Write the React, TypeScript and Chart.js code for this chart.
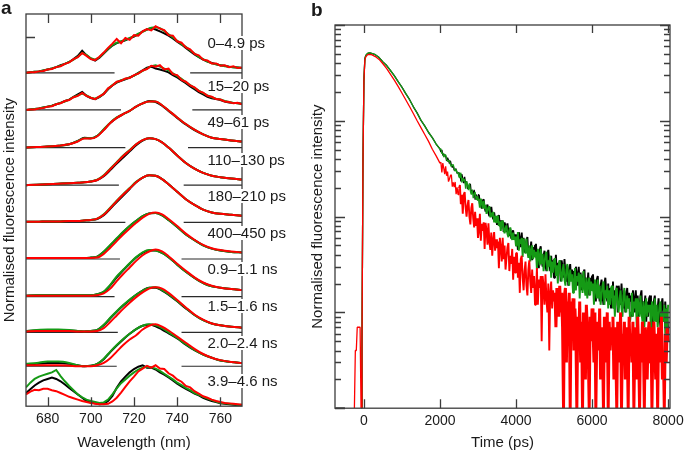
import React, { useEffect, useRef } from "react";
import { Chart, registerables } from "chart.js";
Chart.register(...registerables);

const FONT = '"Liberation Sans", Arial, Helvetica, sans-serif';
const TEXT = "#1a1a1a";
const AXIS = "#3c3c3c";
const RED = "#ff0000";
const GREEN = "#159a15";
const BLACK = "#000000";
const BASE = "#2a2a2a";

// ---------------- Panel a: spectra ----------------
const WL_N = [670,672,674,676,678,680,682,684,686,688,690,692,694,696,698,700,702,704,706,708,710,712,714,716,718,720,722,724,726,728,730,732,734,736,738,740,742,744,746,748,750,752,754,756,758,760,762,764,766,768,770];
const WL_S = [670,675,680,685,690,694,697,700,703,706,709,712,715,718,721,724,727,730,733,736,740,744,748,752,756,760,765,770];
const X_TICKS_A = [680, 700, 720, 740, 760];
const Y_TICKS_A = [7.85];
const SPEC_LABELS = ["0–4.9 ps","15–20 ps","49–61 ps","110–130 ps","180–210 ps","400–450 ps","0.9–1.1 ns","1.5–1.6 ns","2.0–2.4 ns","3.9–4.6 ns"];
const OFFSETS = [7.09, 6.30, 5.50, 4.70, 3.91, 3.13, 2.33, 1.57, 0.85, 0];
const BASE_LEFT_END = [711, 714, 716, 713, 716, 713.5, 711, 712.5, 712];
const BASE_RIGHT_START = [746, 747, 745, 743, 743, 742, 742, 742, 742];
const LABEL_Y_PX = [43, 86, 122, 160, 196, 233, 269, 306, 343, 381];

const S1_BLACK = [0,0.01,0.02,0.03,0.05,0.07,0.09,0.12,0.16,0.19,0.23,0.29,0.36,0.47,0.37,0.30,0.26,0.32,0.41,0.50,0.58,0.63,0.66,0.69,0.73,0.77,0.82,0.88,0.92,0.95,0.92,0.88,0.84,0.79,0.73,0.66,0.60,0.53,0.46,0.39,0.33,0.28,0.24,0.21,0.18,0.16,0.15,0.13,0.12,0.11,0.10];
const S1_GREEN = [0,0.01,0.02,0.03,0.05,0.07,0.09,0.12,0.15,0.19,0.23,0.28,0.34,0.42,0.38,0.31,0.28,0.33,0.42,0.51,0.59,0.64,0.67,0.70,0.74,0.78,0.83,0.87,0.92,0.96,0.97,0.95,0.89,0.82,0.75,0.68,0.61,0.55,0.48,0.41,0.34,0.29,0.24,0.20,0.18,0.16,0.14,0.13,0.12,0.11,0.10];
const S1_RED = [0,0.01,0.01,0.03,0.04,0.07,0.08,0.12,0.14,0.19,0.22,0.29,0.33,0.42,0.36,0.29,0.27,0.34,0.43,0.53,0.62,0.72,0.63,0.74,0.70,0.80,0.79,0.88,0.93,0.90,0.99,0.94,0.91,0.80,0.79,0.67,0.64,0.54,0.50,0.40,0.37,0.28,0.26,0.20,0.20,0.15,0.16,0.12,0.14,0.10,0.11];

const S2_BLACK = [0,0.01,0.02,0.03,0.05,0.07,0.09,0.12,0.15,0.19,0.22,0.28,0.33,0.38,0.30,0.25,0.23,0.27,0.34,0.44,0.52,0.58,0.62,0.65,0.69,0.73,0.79,0.84,0.90,0.92,0.88,0.86,0.83,0.80,0.74,0.69,0.63,0.57,0.50,0.44,0.38,0.33,0.28,0.25,0.23,0.21,0.18,0.16,0.15,0.14,0.13];
const S2_GREEN = [0,0.01,0.02,0.03,0.05,0.07,0.09,0.12,0.15,0.18,0.22,0.27,0.31,0.35,0.31,0.26,0.24,0.28,0.35,0.45,0.53,0.59,0.63,0.66,0.69,0.73,0.78,0.83,0.88,0.93,0.95,0.92,0.88,0.84,0.78,0.72,0.66,0.59,0.53,0.47,0.41,0.36,0.31,0.27,0.24,0.22,0.19,0.17,0.15,0.14,0.13];
const S2_RED = [0,0.01,0.01,0.03,0.04,0.07,0.08,0.12,0.14,0.19,0.21,0.27,0.30,0.36,0.30,0.26,0.23,0.29,0.34,0.46,0.52,0.60,0.62,0.67,0.68,0.74,0.77,0.84,0.87,0.94,0.92,0.95,0.86,0.88,0.76,0.74,0.64,0.60,0.52,0.48,0.40,0.37,0.30,0.28,0.23,0.22,0.18,0.17,0.14,0.15,0.12];

const S3_BLACK = [0,0.01,0.02,0.04,0.07,0.14,0.21,0.20,0.25,0.38,0.52,0.63,0.71,0.78,0.87,0.94,0.99,0.97,0.89,0.78,0.63,0.49,0.37,0.28,0.21,0.18,0.15,0.13];
const S3_GREEN = [0,0.01,0.02,0.04,0.07,0.14,0.20,0.20,0.25,0.39,0.53,0.64,0.71,0.78,0.87,0.94,0.98,0.98,0.90,0.79,0.64,0.50,0.38,0.28,0.21,0.18,0.15,0.13];
const S3_RED = [0,0.01,0.02,0.04,0.07,0.13,0.19,0.19,0.24,0.37,0.52,0.63,0.71,0.78,0.87,0.94,0.98,0.98,0.90,0.79,0.64,0.50,0.38,0.28,0.21,0.18,0.15,0.13];

const S4_BLACK = [0,0.01,0.02,0.03,0.04,0.05,0.06,0.08,0.11,0.19,0.32,0.46,0.59,0.72,0.85,0.95,1.00,0.98,0.91,0.80,0.63,0.47,0.35,0.26,0.20,0.17,0.14,0.12];
const S4_GREEN = [0,0.01,0.02,0.03,0.04,0.05,0.06,0.08,0.12,0.21,0.35,0.49,0.63,0.75,0.87,0.96,1.00,0.98,0.91,0.80,0.63,0.47,0.35,0.26,0.20,0.17,0.14,0.12];
const S4_RED = [0,0.01,0.02,0.03,0.04,0.05,0.06,0.08,0.11,0.20,0.34,0.48,0.62,0.74,0.87,0.96,1.00,0.98,0.91,0.80,0.63,0.47,0.35,0.26,0.20,0.17,0.14,0.12];

const S5_BLACK = [0.01,0.01,0.02,0.02,0.03,0.03,0.04,0.05,0.07,0.15,0.29,0.43,0.57,0.71,0.85,0.95,1.00,0.99,0.92,0.81,0.65,0.49,0.37,0.27,0.21,0.18,0.16,0.14];
const S5_GREEN = [0.01,0.01,0.02,0.02,0.03,0.03,0.04,0.05,0.08,0.17,0.31,0.46,0.60,0.73,0.86,0.95,1.00,0.99,0.92,0.81,0.65,0.49,0.37,0.27,0.21,0.18,0.16,0.14];
const S5_RED = [0.01,0.01,0.02,0.02,0.03,0.03,0.04,0.05,0.08,0.16,0.30,0.45,0.59,0.72,0.85,0.95,1.00,0.99,0.92,0.81,0.65,0.49,0.37,0.27,0.21,0.18,0.16,0.14];

const S6_BLACK = [0.02,0.02,0.02,0.02,0.02,0.02,0.02,0.03,0.05,0.15,0.29,0.43,0.57,0.70,0.81,0.91,0.97,0.98,0.93,0.83,0.68,0.52,0.40,0.29,0.22,0.18,0.15,0.14];
const S6_GREEN = [0.02,0.02,0.02,0.02,0.02,0.02,0.02,0.03,0.05,0.16,0.30,0.44,0.58,0.70,0.81,0.91,0.97,0.98,0.93,0.83,0.68,0.52,0.40,0.29,0.22,0.18,0.15,0.14];
const S6_RED = [0.02,0.02,0.02,0.02,0.02,0.02,0.02,0.02,0.03,0.11,0.24,0.38,0.52,0.65,0.77,0.88,0.96,0.99,0.95,0.85,0.70,0.54,0.41,0.30,0.23,0.19,0.16,0.14];

const S7_BLACK = [0.02,0.03,0.03,0.03,0.03,0.03,0.03,0.03,0.05,0.10,0.24,0.41,0.56,0.70,0.83,0.93,0.98,0.98,0.93,0.84,0.68,0.53,0.40,0.29,0.22,0.19,0.16,0.14];
const S7_GREEN = [0.02,0.03,0.03,0.03,0.03,0.03,0.03,0.03,0.05,0.11,0.25,0.43,0.57,0.71,0.84,0.94,0.99,0.98,0.93,0.84,0.68,0.53,0.40,0.29,0.22,0.19,0.16,0.14];
const S7_RED = [0.02,0.02,0.02,0.02,0.02,0.02,0.02,0.02,0.03,0.07,0.17,0.33,0.48,0.62,0.76,0.88,0.96,1.00,0.96,0.86,0.70,0.55,0.41,0.30,0.23,0.19,0.16,0.14];

const S8_BLACK = [0.03,0.04,0.05,0.05,0.04,0.03,0.02,0.03,0.05,0.15,0.30,0.44,0.57,0.69,0.80,0.89,0.95,0.95,0.89,0.80,0.66,0.51,0.37,0.26,0.19,0.15,0.12,0.10];
const S8_GREEN = [0.03,0.05,0.06,0.06,0.05,0.03,0.02,0.03,0.05,0.16,0.31,0.45,0.58,0.70,0.80,0.89,0.95,0.96,0.90,0.81,0.67,0.52,0.37,0.26,0.19,0.15,0.12,0.10];
const S8_RED = [0.02,0.03,0.03,0.03,0.03,0.02,0.02,0.02,0.03,0.09,0.22,0.36,0.50,0.63,0.75,0.85,0.93,0.96,0.93,0.84,0.69,0.53,0.38,0.27,0.19,0.15,0.12,0.10];

const S9_BLACK = [0.03,0.05,0.07,0.07,0.05,0.02,0.00,0.01,0.05,0.15,0.30,0.44,0.57,0.69,0.79,0.86,0.88,0.85,0.78,0.70,0.59,0.46,0.34,0.25,0.18,0.12,0.09,0.07];
const S9_GREEN = [0.05,0.07,0.10,0.10,0.07,0.02,0.00,0.01,0.05,0.16,0.31,0.45,0.58,0.69,0.79,0.86,0.89,0.87,0.81,0.72,0.60,0.47,0.35,0.25,0.18,0.12,0.09,0.07];
const S9_RED = [0.02,0.02,0.02,0.02,0.01,0.00,0.00,0.00,0.02,0.07,0.17,0.31,0.45,0.57,0.66,0.78,0.86,0.89,0.84,0.76,0.63,0.50,0.37,0.26,0.18,0.13,0.09,0.07];

const S10_BLACK = [0.28,0.36,0.44,0.50,0.55,0.58,0.61,0.58,0.53,0.46,0.39,0.32,0.25,0.18,0.11,0.08,0.06,0.04,0.05,0.11,0.22,0.39,0.53,0.63,0.72,0.79,0.84,0.87,0.82,0.82,0.78,0.72,0.67,0.61,0.55,0.48,0.42,0.37,0.32,0.27,0.23,0.18,0.14,0.11,0.09,0.06,0.05,0.04,0.03,0.02,0.02];
const S10_GREEN = [0.40,0.50,0.58,0.63,0.66,0.69,0.72,0.77,0.64,0.53,0.43,0.34,0.25,0.19,0.14,0.11,0.09,0.07,0.08,0.14,0.25,0.38,0.49,0.57,0.65,0.72,0.78,0.82,0.84,0.83,0.80,0.75,0.69,0.63,0.57,0.50,0.45,0.39,0.34,0.28,0.24,0.20,0.16,0.13,0.10,0.07,0.06,0.05,0.04,0.03,0.03];
const S10_RED = [0.25,0.31,0.35,0.34,0.37,0.37,0.34,0.32,0.28,0.24,0.20,0.17,0.14,0.11,0.09,0.07,0.05,0.04,0.04,0.05,0.10,0.18,0.29,0.41,0.53,0.63,0.74,0.80,0.86,0.82,0.87,0.80,0.79,0.70,0.65,0.57,0.52,0.43,0.40,0.32,0.27,0.21,0.18,0.14,0.11,0.09,0.07,0.06,0.05,0.04,0.03];

const SPECTRA = [
  { wl: WL_N, black: S1_BLACK, green: S1_GREEN, red: S1_RED, smooth: false },
  { wl: WL_N, black: S2_BLACK, green: S2_GREEN, red: S2_RED, smooth: false },
  { wl: WL_S, black: S3_BLACK, green: S3_GREEN, red: S3_RED, smooth: true },
  { wl: WL_S, black: S4_BLACK, green: S4_GREEN, red: S4_RED, smooth: true },
  { wl: WL_S, black: S5_BLACK, green: S5_GREEN, red: S5_RED, smooth: true },
  { wl: WL_S, black: S6_BLACK, green: S6_GREEN, red: S6_RED, smooth: true },
  { wl: WL_S, black: S7_BLACK, green: S7_GREEN, red: S7_RED, smooth: true },
  { wl: WL_S, black: S8_BLACK, green: S8_GREEN, red: S8_RED, smooth: true },
  { wl: WL_S, black: S9_BLACK, green: S9_GREEN, red: S9_RED, smooth: true },
  { wl: WL_N, black: S10_BLACK, green: S10_GREEN, red: S10_RED, smooth: false },
];

// ---------------- Panel b: decays (photon counts) ----------------
const TIME = [-750,-500,-250,-225,-200,-175,-150,-125,-100,-75,-50,-25,0,25,50,100,150,200,300,400,500,600,700,800,900,1000,1100,1200,1300,1400,1500,1600,1700,1800,1900,2000,
2025,2050,2075,2100,2125,2150,2175,2200,2225,2250,2275,2300,2325,2350,2375,2400,2425,2450,2475,2500,
2525,2550,2575,2600,2625,2650,2675,2700,2725,2750,2775,2800,2825,2850,2875,2900,2925,2950,2975,3000,
3025,3050,3075,3100,3125,3150,3175,3200,3225,3250,3275,3300,3325,3350,3375,3400,3425,3450,3475,3500,
3525,3550,3575,3600,3625,3650,3675,3700,3725,3750,3775,3800,3825,3850,3875,3900,3925,3950,3975,4000,
4025,4050,4075,4100,4125,4150,4175,4200,4225,4250,4275,4300,4325,4350,4375,4400,4425,4450,4475,4500,
4525,4550,4575,4600,4625,4650,4675,4700,4725,4750,4775,4800,4825,4850,4875,4900,4925,4950,4975,5000,
5025,5050,5075,5100,5125,5150,5175,5200,5225,5250,5275,5300,5325,5350,5375,5400,5425,5450,5475,5500,
5525,5550,5575,5600,5625,5650,5675,5700,5725,5750,5775,5800,5825,5850,5875,5900,5925,5950,5975,6000,
6025,6050,6075,6100,6125,6150,6175,6200,6225,6250,6275,6300,6325,6350,6375,6400,6425,6450,6475,6500,
6525,6550,6575,6600,6625,6650,6675,6700,6725,6750,6775,6800,6825,6850,6875,6900,6925,6950,6975,7000,
7025,7050,7075,7100,7125,7150,7175,7200,7225,7250,7275,7300,7325,7350,7375,7400,7425,7450,7475,7500,
7525,7550,7575,7600,7625,7650,7675,7700,7725,7750,7775,7800,7825,7850,7875,7900,7925,7950,7975,8000];

const DECAY_BLACK = [1,1,null,null,null,null,null,null,null,1,5,360,2650,4450,4800,5050,5120,5060,4900,4570,4110,3770,3340,2960,2560,2250,1920,1670,1400,1210,1010,885,755,668,572,508,
473,496,435,452,428,433,382,411,387,358,382,344,325,339,303,312,315,283,291,272,
282,233,278,252,224,260,217,233,194,203,216,219,174,189,172,190,150,171,150,167,
168,136,148,121,147,151,125,113,126,133,110,101,119,126,104,94,111,94,101,82,
88,104,79,91,84,91,69,87,80,69,85,70,63,75,59,68,72,59,65,59,
65,45,69,59,48,68,49,60,42,48,57,61,39,49,43,55,35,48,38,50,
52,35,43,29,45,49,35,30,39,44,31,27,40,45,33,27,39,29,35,23,
28,40,24,33,29,35,21,35,30,23,36,25,21,31,19,27,32,22,28,23,
27,17,30,25,19,30,20,26,17,21,26,28,17,23,19,26,15,23,17,24,
25,16,21,13,22,24,17,13,19,22,15,12,20,23,16,13,20,14,18,11,
14,21,11,17,15,19,10,19,16,12,20,13,11,17,10,15,18,11,16,13,
15,9,17,14,10,17,11,15,9,12,15,17,9,13,11,15,8,13,9,14,
15,9,12,7,13,15,10,8,11,14,9,7,12,14,10,8,13,9,11,6];

const DECAY_GREEN = [null,null,null,null,null,null,null,null,null,1,5,360,2650,4450,4800,5070,5140,5070,4900,4570,4120,3760,3350,2950,2570,2240,1930,1660,1410,1200,1020,880,760,665,570,505,
508,454,462,417,444,441,399,375,384,387,349,331,347,349,316,297,312,285,289,259,
254,287,227,253,234,247,196,234,215,189,222,185,170,192,156,172,181,150,163,147,
153,124,154,139,122,146,120,133,107,115,125,128,98,110,100,112,87,102,87,101,
101,80,89,71,88,91,74,67,76,81,66,61,72,77,63,57,68,57,62,49,
51,69,44,58,52,60,38,59,51,41,59,43,37,50,34,44,50,36,45,38,
43,28,46,39,31,46,32,41,27,33,40,43,27,35,30,39,23,34,26,36,
37,24,31,20,32,35,25,21,27,32,22,19,28,32,23,19,28,21,25,16,
20,29,17,24,21,26,14,25,22,16,27,18,15,23,14,20,23,15,21,17,
20,12,22,18,14,22,14,19,12,15,19,21,12,17,14,19,11,17,12,18,
19,11,15,9,17,18,12,10,14,17,11,9,15,18,12,10,15,11,14,8,
10,16,9,13,11,14,7,14,12,9,15,10,8,13,7,11,14,9,12,10,
12,6,13,11,8,14,8,12,7,9,12,13,7,10,8,12,6,11,7,12];

const DECAY_RED = [null,null,1,4,4,7,7,7,7,1,5,350,2570,4300,4650,4900,4940,4900,4680,4370,3940,3510,3050,2660,2290,1950,1660,1410,1190,1000,850,720,610,505,430,362,
368,289,362,321,278,334,267,295,232,247,268,273,205,228,203,230,171,202,170,197,
213,135,169,107,170,180,125,100,131,149,100,83,123,138,96,77,112,80,96,60,
71,107,56,84,71,87,46,86,72,51,85,55,45,68,39,57,69,44,58,47,
55,29,60,48,34,60,36,50,28,37,48,53,27,39,32,46,22,38,26,41,
42,23,33,16,36,39,23,17,27,34,19,15,28,35,21,16,28,18,24,12,
16,29,12,22,18,24,5,24,19,12,25,14,10,20,4,16,21,11,17,13,
16,7,18,14,9,19,10,16,7,1,15,18,3,13,10,16,1,13,8,14,
4,11,6,1,9,5,13,3,8,1,10,6,2,12,7,4,1,9,5,11,
7,3,10,1,6,8,4,11,2,7,5,1,9,6,3,10,1,8,4,7,
5,9,2,7,4,1,8,6,3,10,1,6,4,8,2,7,5,1,9,4,
6,3,8,1,5,7,2,9,4,1,6,3,8,5,1,7,4,2,6,8,
3,7,1,5,8,4,2,6,1,7,3,5,9,2,4,1,6,3,7,5];

const X_TICKS_B = [0, 2000, 4000, 6000, 8000];
const Y_DECADES_B = [1, 10, 100, 1000, 10000];
const Y_MINOR_MULT = [2, 3, 4, 5, 6, 7, 8, 9];

const Y_TITLE = "Normalised fluorescence intensity";

function strokeLine(ctx: CanvasRenderingContext2D, x1: number, y1: number, x2: number, y2: number) {
  ctx.moveTo(x1, y1);
  ctx.lineTo(x2, y2);
}

const panelAPlugin = {
  id: "panelA",
  afterDatasetsDraw(chart: any) {
    const { ctx, chartArea: a, scales } = chart;
    const x = scales.x, y = scales.y;
    ctx.save();
    ctx.strokeStyle = AXIS;
    ctx.lineWidth = 1.3;
    ctx.strokeRect(a.left, a.top, a.right - a.left, a.bottom - a.top);
    ctx.beginPath();
    X_TICKS_A.forEach((v) => {
      const px = Math.round(x.getPixelForValue(v)) + 0.5;
      strokeLine(ctx, px, a.top, px, a.top + 9);
      strokeLine(ctx, px, a.bottom, px, a.bottom - 9);
    });
    Y_TICKS_A.forEach((v) => {
      const py = Math.round(y.getPixelForValue(v)) + 0.5;
      strokeLine(ctx, a.left, py, a.left + 9, py);
    });
    ctx.stroke();
    ctx.font = `15px ${FONT}`;
    ctx.textBaseline = "middle";
    ctx.textAlign = "left";
    SPEC_LABELS.forEach((t, i) => {
      const w = ctx.measureText(t).width;
      const ly = LABEL_Y_PX[i];
      ctx.fillStyle = "#ffffff";
      ctx.fillRect(206, ly - 7, w + 3, 14);
      ctx.fillStyle = TEXT;
      ctx.fillText(t, 207.5, ly + 0.5);
    });
    ctx.font = `bold 19px ${FONT}`;
    ctx.textBaseline = "alphabetic";
    ctx.fillText("a", 1, 14);
    ctx.restore();
  },
};

const panelBPlugin = {
  id: "panelB",
  afterDatasetsDraw(chart: any) {
    const { ctx, chartArea: a, scales } = chart;
    const x = scales.x, y = scales.y;
    ctx.save();
    ctx.strokeStyle = AXIS;
    ctx.lineWidth = 1.3;
    ctx.strokeRect(a.left, a.top, a.right - a.left, a.bottom - a.top);
    ctx.beginPath();
    X_TICKS_B.forEach((v) => {
      const px = Math.round(x.getPixelForValue(v)) + 0.5;
      strokeLine(ctx, px, a.top, px, a.top + 8);
      strokeLine(ctx, px, a.bottom, px, a.bottom - 9);
    });
    Y_DECADES_B.forEach((d, k) => {
      const py = Math.round(y.getPixelForValue(d)) + 0.5;
      strokeLine(ctx, a.left, py, a.left + 10, py);
      strokeLine(ctx, a.right, py, a.right - 10, py);
      if (k < Y_DECADES_B.length - 1) {
        Y_MINOR_MULT.forEach((m) => {
          const pm = Math.round(y.getPixelForValue(d * m)) + 0.5;
          strokeLine(ctx, a.left, pm, a.left + 6, pm);
          strokeLine(ctx, a.right, pm, a.right - 6, pm);
        });
      }
    });
    ctx.stroke();
    ctx.fillStyle = TEXT;
    ctx.font = `bold 19px ${FONT}`;
    ctx.textBaseline = "alphabetic";
    ctx.fillText("b", 16, 16);
    ctx.restore();
  },
};

function buildPanelA(canvas: HTMLCanvasElement) {
  const datasets: any[] = [];
  SPECTRA.forEach((s, i) => {
    const off = OFFSETS[i];
    const mk = (vals: number[], color: string, order: number) => ({
      data: s.wl.map((w, j) => ({ x: w, y: vals[j] + off })),
      borderColor: color,
      borderWidth: 2,
      pointRadius: 0,
      fill: false,
      order,
      tension: s.smooth ? 0.4 : 0,
      cubicInterpolationMode: s.smooth ? "monotone" : "default",
    });
    datasets.push(mk(s.red, RED, 0), mk(s.green, GREEN, 1), mk(s.black, BLACK, 2));
    if (i < BASE_LEFT_END.length) {
      datasets.push({
        data: [{ x: 670, y: off }, { x: BASE_LEFT_END[i], y: off }],
        borderColor: BASE, borderWidth: 1.2, pointRadius: 0, order: 3,
      });
      datasets.push({
        data: [{ x: BASE_RIGHT_START[i], y: off }, { x: 770, y: off }],
        borderColor: BASE, borderWidth: 1.2, pointRadius: 0, order: 3,
      });
    }
  });
  return new Chart(canvas, {
    type: "line",
    data: { datasets },
    options: {
      responsive: false,
      animation: false,
      events: [],
      layout: { padding: { left: 0, right: 53, top: 14, bottom: 0 } },
      plugins: { legend: { display: false }, tooltip: { enabled: false } },
      scales: {
        x: {
          type: "linear", min: 670, max: 770,
          afterBuildTicks: (s: any) => { s.ticks = X_TICKS_A.map((v) => ({ value: v })); },
          afterFit: (s: any) => { s.paddingLeft = 0; s.paddingRight = 0; },
          grid: { display: false, drawTicks: false },
          border: { display: false },
          ticks: { font: { family: FONT, size: 14 }, color: TEXT, padding: 5, maxRotation: 0, autoSkip: false, callback: (v: any) => String(v) },
          title: { display: true, text: "Wavelength (nm)", font: { family: FONT, size: 15 }, color: TEXT, padding: { top: 1, bottom: 0 } },
        },
        y: {
          type: "linear", min: 0, max: 8.34,
          grid: { display: false, drawTicks: false },
          border: { display: false },
          ticks: { display: false },
          title: { display: true, text: Y_TITLE, font: { family: FONT, size: 15 }, color: TEXT, padding: { top: 1, bottom: 7 } },
        },
      },
    } as any,
    plugins: [panelAPlugin],
  });
}

// noisy photon-counting tails are drawn with a heavier stroke
const NOISY_FROM_RED = [2500, 5000];
const NOISY_FROM_GREEN = 3000;

function buildPanelB(canvas: HTMLCanvasElement) {
  const mk = (vals: (number | null)[], color: string, order: number, widthFor: (x: number) => number | undefined) => ({
    data: TIME.map((t, j) => ({ x: t, y: vals[j] })),
    borderColor: color,
    borderWidth: 1.3,
    borderJoinStyle: "bevel",
    pointRadius: 0,
    fill: false,
    order,
    tension: 0,
    segment: { borderWidth: (c: any) => widthFor(c.p0.parsed.x) },
  });
  const redW = (x: number) => (x >= NOISY_FROM_RED[1] ? 3.0 : x >= NOISY_FROM_RED[0] ? 1.9 : undefined);
  const grnW = (x: number) => (x >= NOISY_FROM_GREEN ? 1.9 : undefined);
  return new Chart(canvas, {
    type: "line",
    data: { datasets: [mk(DECAY_RED, RED, 0, redW), mk(DECAY_GREEN, GREEN, 1, grnW), mk(DECAY_BLACK, BLACK, 2, grnW)] },
    options: {
      responsive: false,
      animation: false,
      events: [],
      layout: { padding: { left: 12, right: 15, top: 25, bottom: 0 } },
      plugins: { legend: { display: false }, tooltip: { enabled: false } },
      scales: {
        x: {
          type: "linear", min: -760, max: 8050,
          afterBuildTicks: (s: any) => { s.ticks = X_TICKS_B.map((v) => ({ value: v })); },
          afterFit: (s: any) => { s.paddingLeft = 0; s.paddingRight = 0; },
          grid: { display: false, drawTicks: false },
          border: { display: false },
          ticks: { font: { family: FONT, size: 14 }, color: TEXT, padding: 4.5, maxRotation: 0, autoSkip: false, callback: (v: any) => String(v) },
          title: { display: true, text: "Time (ps)", font: { family: FONT, size: 15 }, color: TEXT, padding: { top: 0, bottom: 0 } },
        },
        y: {
          type: "logarithmic", min: 1, max: 10000,
          grid: { display: false, drawTicks: false },
          border: { display: false },
          ticks: { display: false },
          title: { display: true, text: Y_TITLE, font: { family: FONT, size: 15 }, color: TEXT, padding: { top: 2, bottom: 8 } },
        },
      },
    } as any,
    plugins: [panelBPlugin],
  });
}

export default function App() {
  const refA = useRef<HTMLCanvasElement>(null);
  const refB = useRef<HTMLCanvasElement>(null);
  useEffect(() => {
    const a = buildPanelA(refA.current!);
    const b = buildPanelB(refB.current!);
    return () => {
      a.destroy();
      b.destroy();
    };
  }, []);
  return (
    <div style={{ position: "fixed", left: 0, top: 0, width: 685, height: 452, background: "#ffffff", overflow: "hidden" }}>
      <canvas ref={refA} width={295} height={452} style={{ position: "absolute", left: 0, top: 0, width: 295, height: 452 }} />
      <canvas ref={refB} width={390} height={452} style={{ position: "absolute", left: 295, top: 0, width: 390, height: 452 }} />
    </div>
  );
}
